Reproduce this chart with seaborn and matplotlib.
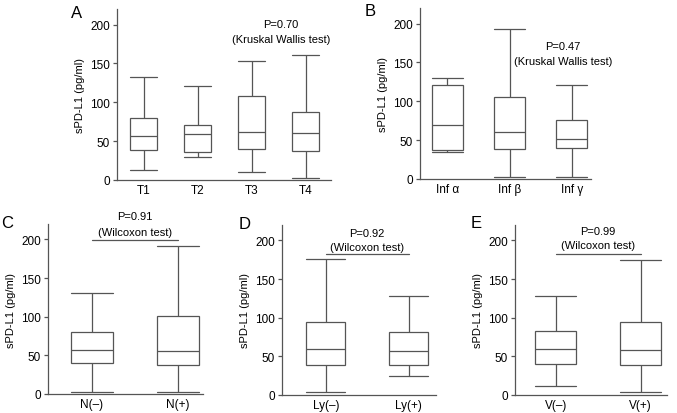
import numpy as np
import pandas as pd
import matplotlib
matplotlib.use("Agg")
import matplotlib.pyplot as plt
import seaborn as sns

sns.set_style("ticks")
plt.rcParams['font.family'] = ['Liberation Sans', 'DejaVu Sans']
plt.rcParams['text.color'] = 'black'
plt.rcParams['axes.labelcolor'] = 'black'
plt.rcParams['xtick.labelcolor'] = 'black'
plt.rcParams['ytick.labelcolor'] = 'black'

# ---- data: five-number summaries (min, Q1, median, Q3, max) ----
cat_A = ["T1", "T2", "T3", "T4"]
min_A = [12.5, 29.2, 9.9, 2.2]
q1_A = [38.7, 36.6, 40.4, 37.4]
med_A = [56.3, 59.4, 61.5, 61.1]
q3_A = [80.4, 71.0, 108.4, 87.7]
max_A = [132.5, 120.4, 152.7, 161.3]

cat_B = ["Inf α", "Inf β", "Inf γ"]
min_B = [34.5, 3.0, 3.0]
q1_B = [37.1, 38.8, 40.5]
med_B = [69.0, 60.3, 50.9]
q3_B = [121.1, 105.2, 75.4]
max_B = [129.3, 192.7, 120.3]

cat_C = ["N(–)", "N(+)"]
min_C = [2.6, 2.6]
q1_C = [39.7, 37.6]
med_C = [57.5, 56.2]
q3_C = [79.9, 100.6]
max_C = [131.3, 191.8]

cat_D = ["Ly(–)", "Ly(+)"]
min_D = [3.9, 24.2]
q1_D = [39.3, 38.4]
med_D = [60.0, 56.6]
q3_D = [94.2, 82.1]
max_D = [175.6, 128.7]

cat_E = ["V(–)", "V(+)"]
min_E = [11.7, 3.9]
q1_E = [40.6, 39.3]
med_E = [60.0, 57.9]
q3_E = [82.9, 94.6]
max_E = [128.7, 174.5]

p_A, p_B, p_C, p_D, p_E = "P=0.70", "P=0.47", "P=0.91", "P=0.92", "P=0.99"
test_kw = "(Kruskal Wallis test)"
test_w = "(Wilcoxon test)"
ylabel = "sPD-L1 (pg/ml)"
yticks = [0, 50, 100, 150, 200]

LC = "#555555"


def make_df(cats, mins, q1s, meds, q3s, maxs):
    rows = []
    for c, a, b, m, d, e in zip(cats, mins, q1s, meds, q3s, maxs):
        for v in (a, b, m, d, e):
            rows.append({"group": c, "value": v})
    return pd.DataFrame(rows)


fig = plt.figure(figsize=(6.77, 4.14), dpi=100)
W, H = 677.0, 414.0


def add_ax(left, right, bottom, top):
    return fig.add_axes([left / W, 1 - bottom / H, (right - left) / W, (bottom - top) / H])


def draw(ax, cats, mins, q1s, meds, q3s, maxs, width, xlim):
    df = make_df(cats, mins, q1s, meds, q3s, maxs)
    sns.boxplot(data=df, x="group", y="value", order=cats, ax=ax,
                whis=(0, 100), width=width, color="white", linecolor=LC,
                linewidth=0.9, fill=True, showfliers=False, capwidths=width)
    ax.set_xlim(*xlim)
    ax.set_ylim(0, 220)
    ax.set_yticks(yticks)
    ax.set_xlabel("")
    ax.set_ylabel(ylabel, fontsize=8, labelpad=4)
    for s in ["top", "right"]:
        ax.spines[s].set_visible(False)
    for s in ["left", "bottom"]:
        ax.spines[s].set_color(LC)
        ax.spines[s].set_linewidth(0.9)
    ax.tick_params(axis="y", length=3, width=0.9, color=LC, labelsize=8.5, pad=2)
    ax.tick_params(axis="x", length=0, labelsize=8.5, pad=3)


axA = add_ax(117, 331, 181, 10)
draw(axA, cat_A, min_A, q1_A, med_A, q3_A, max_A, 0.5, (-0.5, 3.47))
axA.text(2.54, 201, p_A, ha="center", va="center", fontsize=8)
axA.text(2.54, 181.5, test_kw, ha="center", va="center", fontsize=8)

axB = add_ax(420, 591, 180, 9)
draw(axB, cat_B, min_B, q1_B, med_B, q3_B, max_B, 0.5, (-0.44, 2.31))
axB.text(1.86, 171, p_B, ha="center", va="center", fontsize=8)
axB.text(1.86, 151.7, test_kw, ha="center", va="center", fontsize=8)


def sig(ax, y, p, dy1, dy2):
    ax.plot([0, 1], [y, y], color=LC, lw=0.9, clip_on=False)
    ax.text(0.5, y + dy1, p, ha="center", va="center", fontsize=8, clip_on=False)
    ax.text(0.5, y + dy2, test_w, ha="center", va="center", fontsize=8, clip_on=False)


axC = add_ax(48, 203, 395, 225)
draw(axC, cat_C, min_C, q1_C, med_C, q3_C, max_C, 0.48, (-0.51, 1.29))
sig(axC, 199, p_C, 31, 11)

axD = add_ax(282, 436, 396, 226)
draw(axD, cat_D, min_D, q1_D, med_D, q3_D, max_D, 0.47, (-0.53, 1.33))
sig(axD, 182, p_D, 27.5, 9)

axE = add_ax(515, 667, 396, 226)
draw(axE, cat_E, min_E, q1_E, med_E, q3_E, max_E, 0.48, (-0.48, 1.31))
sig(axE, 182, p_E, 30.5, 12.5)

for lab, x, y in [("A", 77, 14), ("B", 370, 12), ("C", 7, 224), ("D", 245, 225), ("E", 476, 224)]:
    fig.text(x / W, 1 - y / H, lab, fontsize=12, ha="center", va="center")

fig.savefig("out.png", dpi=100)
